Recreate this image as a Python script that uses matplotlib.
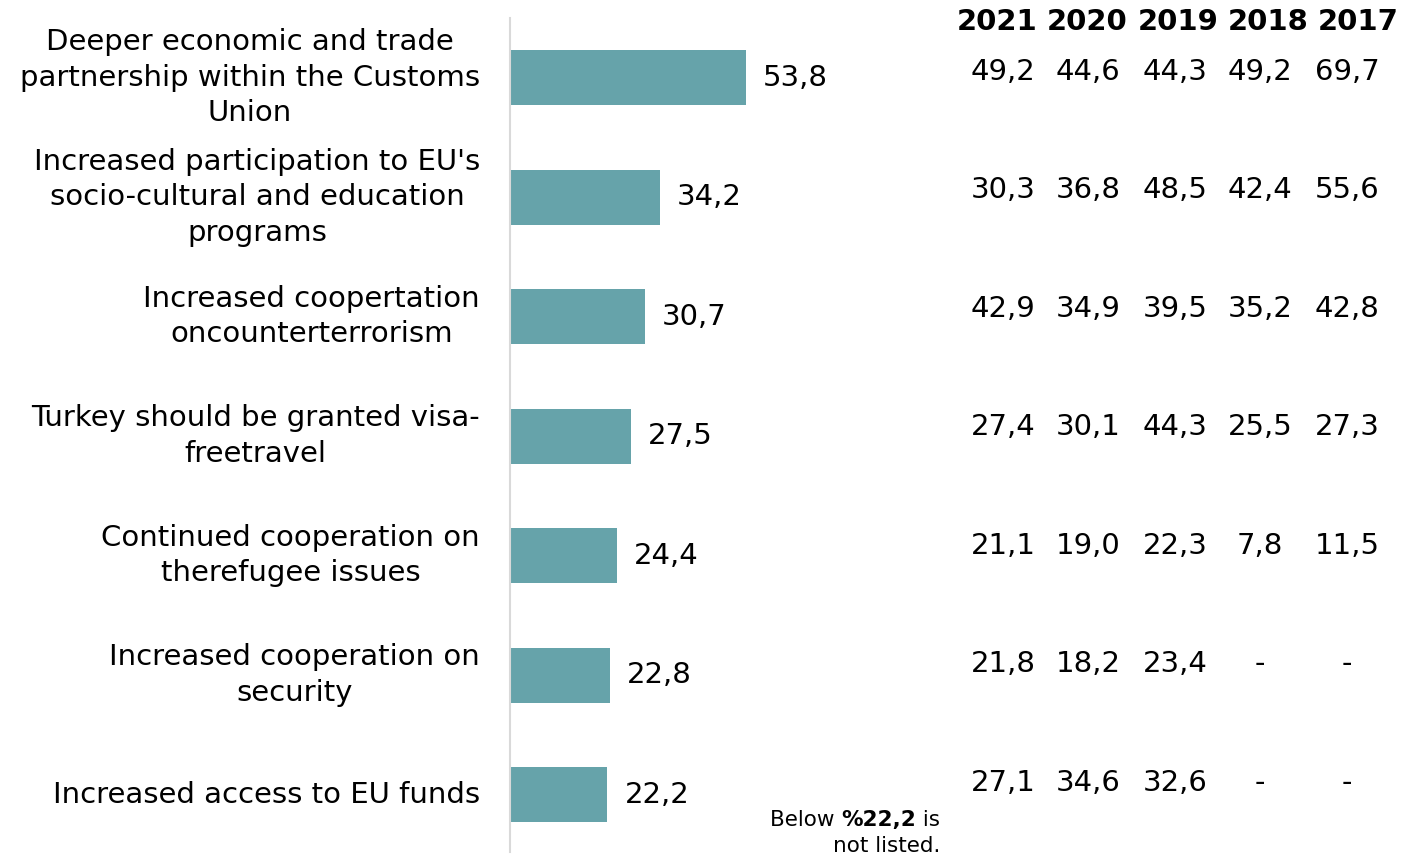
import matplotlib
matplotlib.use("Agg")
import matplotlib.pyplot as plt
from matplotlib.transforms import blended_transform_factory

categories = [
    "Deeper economic and trade\npartnership within the Customs\nUnion",
    "Increased participation to EU's\nsocio-cultural and education\nprograms",
    "Increased coopertation\noncounterterrorism",
    "Turkey should be granted visa-\nfreetravel",
    "Continued cooperation on\ntherefugee issues",
    "Increased cooperation on\nsecurity",
    "Increased access to EU funds",
]
values_2021 = [53.8, 34.2, 30.7, 27.5, 24.4, 22.8, 22.2]

years = ["2021", "2020", "2019", "2018", "2017"]
table_2021 = ["49,2", "30,3", "42,9", "27,4", "21,1", "21,8", "27,1"]
table_2020 = ["44,6", "36,8", "34,9", "30,1", "19,0", "18,2", "34,6"]
table_2019 = ["44,3", "48,5", "39,5", "44,3", "22,3", "23,4", "32,6"]
table_2018 = ["49,2", "42,4", "35,2", "25,5", "7,8", "-", "-"]
table_2017 = ["69,7", "55,6", "42,8", "27,3", "11,5", "-", "-"]
table_cols = [table_2021, table_2020, table_2019, table_2018, table_2017]

plt.rcParams["font.family"] = ["DejaVu Sans"]

W, H = 1419, 855
fig = plt.figure(figsize=(W / 100, H / 100), dpi=100)
ax = fig.add_axes([510 / W, 1 - 852 / H, (W - 510) / W, (852 - 18) / H])

ax.barh(range(len(values_2021)), values_2021, height=0.46, color="#66A3AA")
ax.set_xlim(0, (W - 510) / 4.387)
ax.set_ylim(6.48, -0.5)
for s in ["top", "right", "bottom"]:
    ax.spines[s].set_visible(False)
ax.spines["left"].set_color("#D9D9D9")
ax.spines["left"].set_linewidth(1.5)
ax.set_xticks([])
ax.set_yticks([])

fs = 21
for i, (cat, v) in enumerate(zip(categories, values_2021)):
    ax.annotate(cat, xy=(0, i), xytext=(-30, 0), textcoords="offset pixels",
                ha="right", va="center", multialignment="center",
                fontsize=fs, linespacing=1.34)
    ax.annotate(f"{v:.1f}".replace(".", ","), xy=(v, i), xytext=(17, 0),
                textcoords="offset pixels", ha="left", va="center", fontsize=fs)

# table on the right
val_x = [1003, 1088, 1175, 1260, 1347]
head_x = [997, 1087, 1178, 1268, 1358]
blend = blended_transform_factory(fig.transFigure, ax.transData)
for x, col in zip(val_x, table_cols):
    for i, s in enumerate(col):
        ax.annotate(s, xy=(x / W, i), xycoords=blend, xytext=(0, 6 + i),
                    textcoords="offset pixels", ha="center", va="center",
                    fontsize=fs)
for x, y in zip(head_x, years):
    fig.text(x / W, 1 - 22 / H, y, ha="center", va="center",
             fontsize=fs, fontweight="bold")

# footnote
t1 = fig.text(940 / W, 1 - 820 / H, " is", ha="right", va="center", fontsize=15.5)
t2 = ax.annotate("%22,2", xy=(0, 0), xycoords=t1, ha="right", va="bottom",
                 fontsize=15.5, fontweight="bold")
ax.annotate("Below ", xy=(0, 0), xycoords=t2, ha="right", va="bottom",
            fontsize=15.5)
fig.text(940 / W, 1 - 846 / H, "not listed.", ha="right", va="center",
         fontsize=15.5)

fig.savefig("out.png", dpi=100)
